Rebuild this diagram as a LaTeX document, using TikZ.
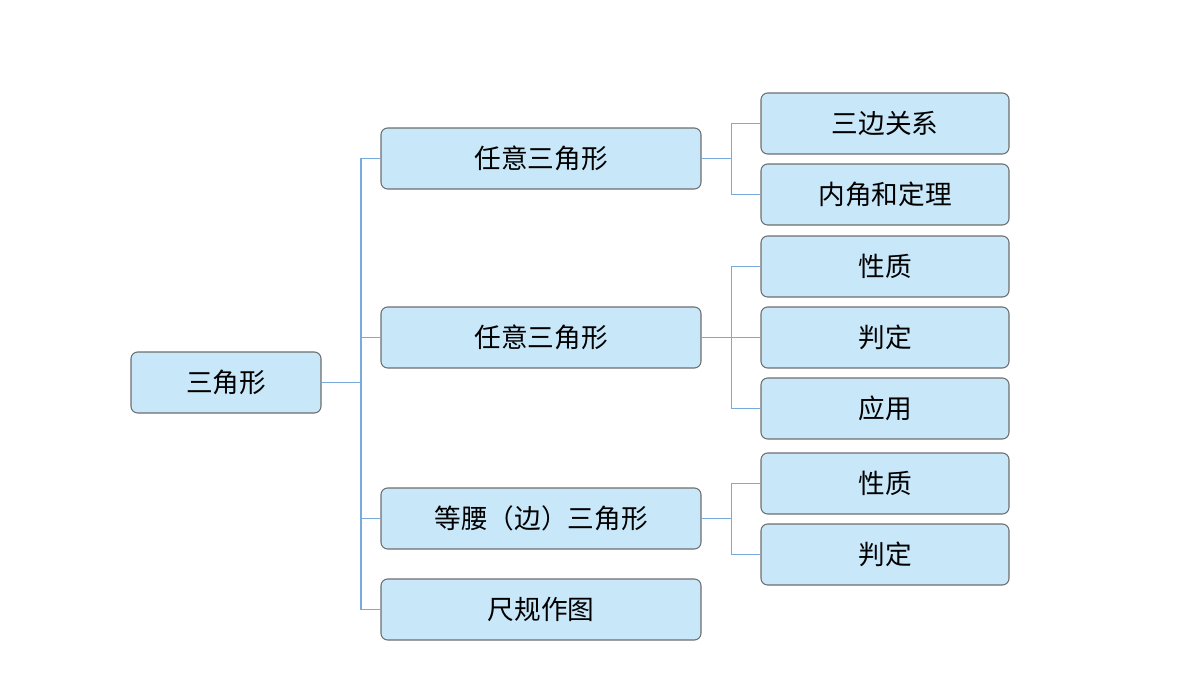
\documentclass[tikz,border=0pt]{standalone}
\usepackage{fontspec}
\newfontfamily\cjk{Noto Sans CJK SC}
\begin{document}
\begin{tikzpicture}[x=0.75pt,y=-0.75pt,
  box/.style={draw={rgb,255:red,110;green,110;blue,110},fill={rgb,255:red,200;green,232;blue,250},rounded corners=5pt,line width=0.8pt,font=\cjk\fontsize{20}{24}\selectfont,inner sep=0pt,anchor=center},
  b1/.style={box,minimum width=190*0.75pt,minimum height=61*0.75pt},
  b2/.style={box,minimum width=320*0.75pt,minimum height=61*0.75pt},
  b3/.style={box,minimum width=248*0.75pt,minimum height=61*0.75pt},
  ln/.style={draw={rgb,255:red,120;green,170;blue,220},line width=0.8pt}]
\useasboundingbox (0,0) rectangle (1200,675);
\node[b1] (r) at (226,382.5) {三角形};
\node[b2] (a) at (541,158.5) {任意三角形};
\node[b2] (b) at (541,337.5) {任意三角形};
\node[b2] (c) at (541,518.5) {等腰（边）三角形};
\node[b2] (d) at (541,609.5) {尺规作图};
\node[b3] (a1) at (885,123.5) {三边关系};
\node[b3] (a2) at (885,194.5) {内角和定理};
\node[b3] (b1) at (885,266.5) {性质};
\node[b3] (b2) at (885,337.5) {判定};
\node[b3] (b3) at (885,408.5) {应用};
\node[b3] (c1) at (885,483.5) {性质};
\node[b3] (c2) at (885,554.5) {判定};
\coordinate (rj) at (361,382.5);
\draw[ln] (r.east) -- (rj);
\foreach \n in {a,b,c,d} \draw[ln] (rj) |- (\n.west);
\foreach \p/\k in {a/a1,a/a2,b/b1,b/b2,b/b3,c/c1,c/c2} \draw[ln] (\p.east) -- ++(30,0) |- (\k.west);
\end{tikzpicture}
\end{document}
